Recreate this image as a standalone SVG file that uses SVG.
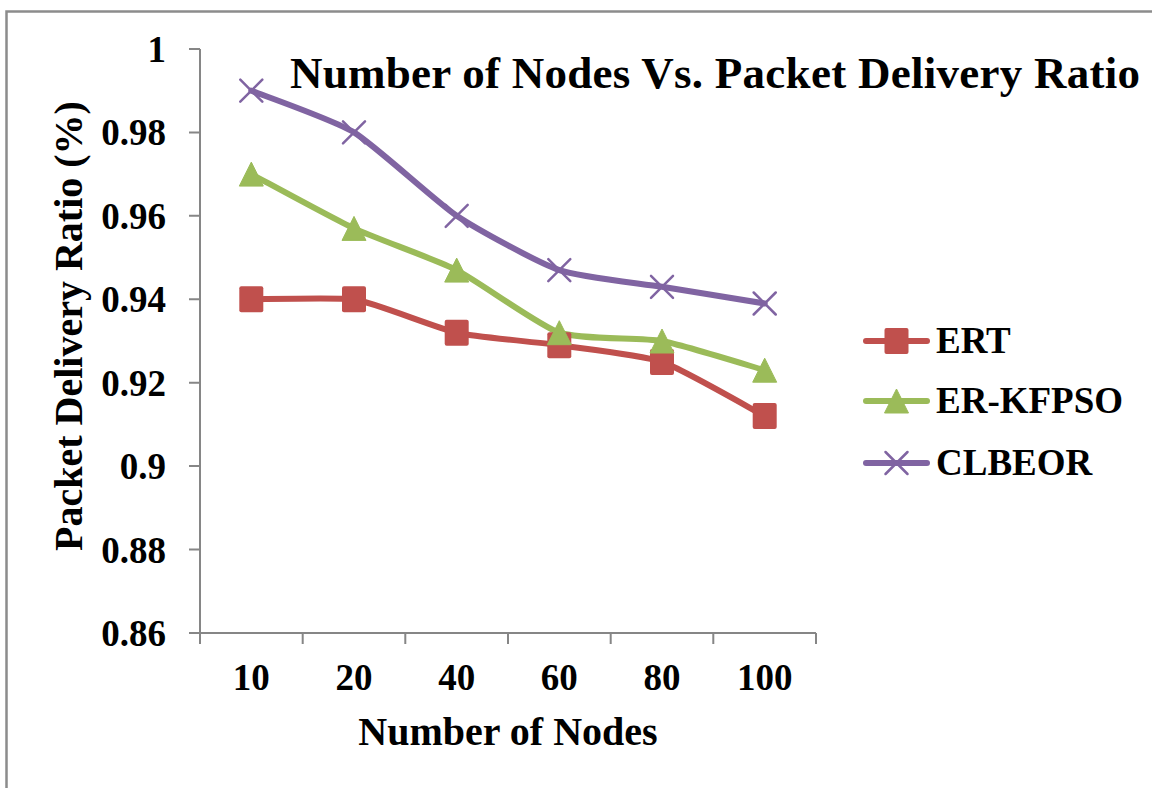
<svg xmlns="http://www.w3.org/2000/svg" xmlns:xlink="http://www.w3.org/1999/xlink" width="1152" height="788" viewBox="0 0 1152 788" font-family="'Liberation Serif', 'Times New Roman', serif" font-weight="bold">
  <style>
    text { font-family: 'Liberation Serif', 'Times New Roman', serif; font-weight: 700; fill: #000; }
    .tick { font-size: 37px; }
    .ylab { text-anchor: end; }
    .xlab { text-anchor: middle; }
    .axtitle { font-size: 40px; text-anchor: middle; }
    .title { font-size: 45px; }
    .legend { font-size: 37px; }
    .axis { stroke: #868686; stroke-width: 2; fill: none; }
    .series { fill: none; stroke-width: 6; stroke-linejoin: round; stroke-linecap: round; }
    .ert { stroke: #C0504D; }
    .kfpso { stroke: #9BBB59; }
    .clbeor { stroke: #8064A2; }
  </style>
  <defs>
    <g id="m-square"><rect x="-12" y="-13" width="24" height="26" rx="2" fill="#C0504D"/></g>
    <g id="m-tri"><polygon points="0,-12 12,12 -12,12" fill="#9BBB59" stroke="#9BBB59" stroke-width="1" stroke-linejoin="round"/></g>
    <g id="m-cross" stroke="#8064A2" stroke-width="2.5" stroke-linecap="round"><line x1="-11" y1="-11" x2="11" y2="11"/><line x1="-11" y1="11" x2="11" y2="-11"/></g>
  </defs>

  <rect width="1152" height="788" fill="#fff"/>
  <!-- chart frame -->
  <path d="M 6.5 788 V 11.5 H 1152" fill="none" stroke="#8c8c8c" stroke-width="2.5"/>

  <!-- title -->
  <text class="title" x="290" y="88" textLength="850" lengthAdjust="spacing">Number of Nodes Vs. Packet Delivery Ratio</text>

  <!-- axes -->
  <g id="axes">
    <path class="axis" d="M 200 49 V 633 H 816"/>
    <path class="axis" d="M 189 49 H 200 M 189 132.4 H 200 M 189 215.8 H 200 M 189 299.3 H 200 M 189 382.7 H 200 M 189 466.1 H 200 M 189 549.6 H 200 M 189 633 H 200"/>
    <path class="axis" d="M 200 633 V 644 M 302.7 633 V 644 M 405.3 633 V 644 M 508 633 V 644 M 610.7 633 V 644 M 713.3 633 V 644 M 816 633 V 644"/>
    <g class="tick ylab">
      <text x="166" y="62">1</text>
      <text x="166" y="145.4">0.98</text>
      <text x="166" y="228.8">0.96</text>
      <text x="166" y="312.3">0.94</text>
      <text x="166" y="395.7">0.92</text>
      <text x="166" y="479.1">0.9</text>
      <text x="166" y="562.6">0.88</text>
      <text x="166" y="646">0.86</text>
    </g>
    <g class="tick xlab">
      <text x="251.3" y="690">10</text>
      <text x="354" y="690">20</text>
      <text x="456.7" y="690">40</text>
      <text x="559.3" y="690">60</text>
      <text x="662" y="690">80</text>
      <text x="764.7" y="690">100</text>
    </g>
    <text class="axtitle" x="508" y="745">Number of Nodes</text>
    <text class="axtitle" transform="translate(82 326) rotate(-90)">Packet Delivery Ratio (%)</text>
  </g>

  <!-- data series (lightly smoothed) -->
  <g id="connectors">
    <path class="series ert" d="M 251.3 299.3 C 261.6 299.3 333.5 297.6 354 299.3 C 374.5 302.6 436.2 328.1 456.7 332.7 C 477.2 337.3 538.8 342.3 559.3 345.2 C 579.8 348.1 641.5 354.8 662 361.9 C 682.5 369 754.4 410.7 764.7 416.1"/>
    <path class="series kfpso" d="M 251.3 174.1 C 261.6 179.5 333.5 218.8 354 228.4 C 374.5 238 436.2 259.7 456.7 270.1 C 477.2 280.5 538.8 325.6 559.3 332.7 C 579.8 339.8 641.5 337.3 662 341 C 682.5 344.8 754.4 367.3 764.7 370.2"/>
    <path class="series clbeor" d="M 251.3 90.7 C 261.6 94.9 333.5 119.9 354 132.4 C 374.5 144.9 436.2 202 456.7 215.8 C 477.2 229.6 538.8 263 559.3 270.1 C 579.8 277.2 641.5 283.5 662 286.8 C 682.5 290.1 754.4 301.8 764.7 303.5"/>
  </g>

  <g id="markers-ert">
    <use xlink:href="#m-square" x="251.3" y="299.3"/>
    <use xlink:href="#m-square" x="354" y="299.3"/>
    <use xlink:href="#m-square" x="456.7" y="332.7"/>
    <use xlink:href="#m-square" x="559.3" y="345.2"/>
    <use xlink:href="#m-square" x="662" y="361.9"/>
    <use xlink:href="#m-square" x="764.7" y="416.1"/>
  </g>
  <g id="markers-kfpso">
    <use xlink:href="#m-tri" x="251.3" y="174.1"/>
    <use xlink:href="#m-tri" x="354" y="228.4"/>
    <use xlink:href="#m-tri" x="456.7" y="270.1"/>
    <use xlink:href="#m-tri" x="559.3" y="332.7"/>
    <use xlink:href="#m-tri" x="662" y="341"/>
    <use xlink:href="#m-tri" x="764.7" y="370.2"/>
  </g>
  <g id="markers-clbeor">
    <use xlink:href="#m-cross" x="251.3" y="90.7"/>
    <use xlink:href="#m-cross" x="354" y="132.4"/>
    <use xlink:href="#m-cross" x="456.7" y="215.8"/>
    <use xlink:href="#m-cross" x="559.3" y="270.1"/>
    <use xlink:href="#m-cross" x="662" y="286.8"/>
    <use xlink:href="#m-cross" x="764.7" y="303.5"/>
  </g>

  <!-- legend -->
  <g id="legend">
    <g id="legend-ert">
      <line class="series ert" x1="866" y1="341" x2="927" y2="341"/>
      <use xlink:href="#m-square" x="896.5" y="341"/>
      <text class="legend" x="936" y="353">ERT</text>
    </g>
    <g id="legend-kfpso">
      <line class="series kfpso" x1="866" y1="401" x2="927" y2="401"/>
      <use xlink:href="#m-tri" x="896.5" y="401"/>
      <text class="legend" x="936" y="413">ER-KFPSO</text>
    </g>
    <g id="legend-clbeor">
      <line class="series clbeor" x1="866" y1="463" x2="927" y2="463"/>
      <use xlink:href="#m-cross" x="896.5" y="463"/>
      <text class="legend" x="936" y="475">CLBEOR</text>
    </g>
  </g>
</svg>
